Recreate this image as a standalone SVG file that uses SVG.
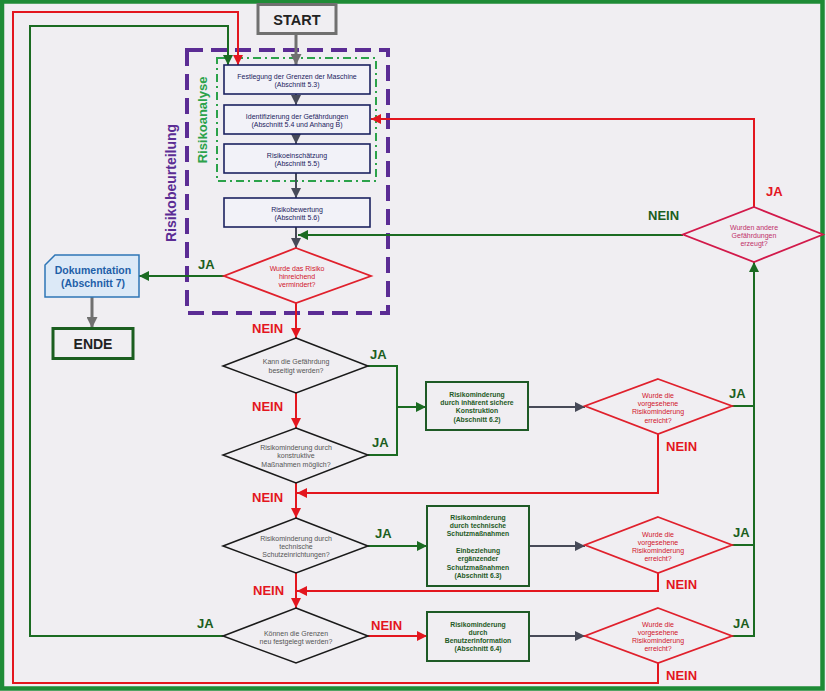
<svg xmlns="http://www.w3.org/2000/svg" width="826" height="691" viewBox="0 0 826 691">
<style>
text{font-family:"Liberation Sans",Arial,sans-serif;}
.lbl{font-size:13px;font-weight:bold;}
.g{fill:#1b5e20;}
.r{fill:#e3161e;}
.bt{font-size:7px;fill:#1c2260;text-anchor:middle;}
.gt{font-size:6.8px;font-weight:bold;fill:#1e5a26;text-anchor:middle;}
.dt{font-size:7px;fill:#555;text-anchor:middle;}
.rt{font-size:7px;fill:#d0142c;text-anchor:middle;}
.nb{fill:#f2f2f8;stroke:#1c2260;stroke-width:1.6;}
.gb{fill:#f0eef2;stroke:#1e5a26;stroke-width:2;}
.bd{fill:#f0eef2;stroke:#1a1a1a;stroke-width:1.5;}
.rd{fill:#f0eef2;stroke:#e0202c;stroke-width:1.8;}
.cr{fill:none;stroke:#e3161e;stroke-width:2;}
.cg{fill:none;stroke:#1b6b22;stroke-width:2;}
.ck{fill:none;stroke:#474a58;stroke-width:2;}
.cy{fill:none;stroke:#707070;stroke-width:3;}
</style>
<defs>
<marker id="mr" viewBox="0 0 10 10" refX="10" refY="5" markerWidth="10" markerHeight="10" markerUnits="userSpaceOnUse" orient="auto"><path d="M0,0 L10,5 L0,10 z" fill="#e3161e"/></marker>
<marker id="mg" viewBox="0 0 10 10" refX="10" refY="5" markerWidth="10" markerHeight="10" markerUnits="userSpaceOnUse" orient="auto"><path d="M0,0 L10,5 L0,10 z" fill="#1b6b22"/></marker>
<marker id="mk" viewBox="0 0 10 10" refX="10" refY="5" markerWidth="10" markerHeight="10" markerUnits="userSpaceOnUse" orient="auto"><path d="M0,0 L10,5 L0,10 z" fill="#474a58"/></marker>
<marker id="my" viewBox="0 0 10 10" refX="10" refY="5" markerWidth="11" markerHeight="11" markerUnits="userSpaceOnUse" orient="auto"><path d="M0,0 L10,5 L0,10 z" fill="#707070"/></marker>
</defs>
<rect x="0" y="0" width="826" height="691" fill="#f0eef2"/>
<rect x="2" y="1.5" width="820.5" height="687" fill="none" stroke="#1e8b36" stroke-width="4.5"/>

<!-- grouping frames -->
<g id="risikobeurteilung">
<rect x="187" y="50" width="201" height="263" fill="none" stroke="#5b2c94" stroke-width="4" stroke-dasharray="16 8"/>
<text transform="translate(176,183) rotate(-90)" text-anchor="middle" font-size="14" font-weight="bold" fill="#5b2c94">Risikobeurteilung</text>
</g>
<g id="risikoanalyse">
<rect x="217" y="58" width="159" height="123" fill="none" stroke="#2ca24a" stroke-width="2" stroke-dasharray="8 4 2 4"/>
<text transform="translate(207,120) rotate(-90)" text-anchor="middle" font-size="13" font-weight="bold" fill="#2ca24a">Risikoanalyse</text>
</g>

<g id="connectors">
<path class="cy" d="M296,34 V65" marker-end="url(#my)"/>
<path class="ck" d="M296,94 V105" marker-end="url(#mk)"/>
<path class="ck" d="M296,134 V144" marker-end="url(#mk)"/>
<path class="ck" d="M296,173 V198" marker-end="url(#mk)"/>
<path class="ck" d="M296,227 V248" marker-end="url(#mk)"/>
<path class="cg" d="M224,276 H139" marker-end="url(#mg)"/>
<path class="cy" d="M92,297 V328" marker-end="url(#my)"/>
<path class="cr" d="M296,303 V338" marker-end="url(#mr)"/>
<path class="cg" d="M368,366 H397 V455 H368"/>
<path class="cg" d="M397,407 H426" marker-end="url(#mg)"/>
<path class="cr" d="M296,393 V428" marker-end="url(#mr)"/>
<path class="ck" d="M528,407 H585" marker-end="url(#mk)"/>
<path class="cg" d="M732,406 H754"/>
<path class="cr" d="M658,434 V493 H297" marker-end="url(#mr)"/>
<path class="cr" d="M296,483 V518" marker-end="url(#mr)"/>
<path class="cg" d="M368,546 H427" marker-end="url(#mg)"/>
<path class="ck" d="M529,546 H585" marker-end="url(#mk)"/>
<path class="cg" d="M732,545 H754"/>
<path class="cr" d="M658,573 V591 H297" marker-end="url(#mr)"/>
<path class="cr" d="M296,573 V608" marker-end="url(#mr)"/>
<path class="cr" d="M368,636 H427" marker-end="url(#mr)"/>
<path class="ck" d="M529,636 H585" marker-end="url(#mk)"/>
<path class="cg" d="M732,636 H754 V262" marker-end="url(#mg)"/>
<path class="cr" d="M658,663 V683 H13 V12 H238 V65" marker-end="url(#mr)"/>
<path class="cg" d="M223,636 H30 V26 H228 V65" marker-end="url(#mg)"/>
<path class="cr" d="M754,207 V119 H371" marker-end="url(#mr)"/>
<path class="cg" d="M683,235 H298" marker-end="url(#mg)"/>
</g>

<g id="labels">
<text class="lbl g" x="198" y="269">JA</text>
<text class="lbl g" x="370" y="359">JA</text>
<text class="lbl g" x="372" y="447">JA</text>
<text class="lbl g" x="375" y="538">JA</text>
<text class="lbl g" x="729" y="398">JA</text>
<text class="lbl g" x="733" y="537">JA</text>
<text class="lbl g" x="733" y="628">JA</text>
<text class="lbl g" x="197" y="628">JA</text>
<text class="lbl r" x="766" y="196">JA</text>
<text class="lbl g" x="648" y="220">NEIN</text>
<text class="lbl r" x="252" y="333">NEIN</text>
<text class="lbl r" x="252" y="411">NEIN</text>
<text class="lbl r" x="666" y="451">NEIN</text>
<text class="lbl r" x="252" y="502">NEIN</text>
<text class="lbl r" x="666" y="589">NEIN</text>
<text class="lbl r" x="253" y="595">NEIN</text>
<text class="lbl r" x="371" y="630">NEIN</text>
<text class="lbl r" x="666" y="680">NEIN</text>
</g>

<g id="start">
<rect x="258" y="4.5" width="78" height="29" fill="#f0eef2" stroke="#707070" stroke-width="3"/>
<text x="297" y="25" text-anchor="middle" font-size="14.5" font-weight="bold" fill="#222">START</text>
</g>
<g id="festlegung">
<rect class="nb" x="224" y="65" width="146" height="29"/>
<text class="bt" x="297" y="78.5">Festlegung der Grenzen der Maschine</text>
<text class="bt" x="297" y="87">(Abschnitt 5.3)</text>
</g>
<g id="identifizierung">
<rect class="nb" x="224" y="105" width="146" height="29"/>
<text class="bt" x="297" y="118.5">Identifizierung der Gefährdungen</text>
<text class="bt" x="297" y="127">(Abschnitt 5.4 und Anhang B)</text>
</g>
<g id="einschaetzung">
<rect class="nb" x="224" y="144" width="146" height="29"/>
<text class="bt" x="297" y="157.5">Risikoeinschätzung</text>
<text class="bt" x="297" y="166">(Abschnitt 5.5)</text>
</g>
<g id="bewertung">
<rect class="nb" x="224" y="198" width="146" height="29"/>
<text class="bt" x="297" y="211.5">Risikobewertung</text>
<text class="bt" x="297" y="220">(Abschnitt 5.6)</text>
</g>
<g id="d-vermindert">
<polygon class="rd" points="296,248 371,276 296,303 224,276"/>
<text class="rt" x="297" y="270.5">Wurde das Risiko</text>
<text class="rt" x="297" y="278.5">hinreichend</text>
<text class="rt" x="297" y="286.5">vermindert?</text>
</g>
<g id="dokumentation">
<path d="M55,255 H139 V297 H45 V265 Z" fill="#dce9f7" stroke="#2e75b6" stroke-width="1.5"/>
<text x="93" y="274" text-anchor="middle" font-size="10.5" font-weight="bold" fill="#1f5fa8">Dokumentation</text>
<text x="93" y="287" text-anchor="middle" font-size="10.5" font-weight="bold" fill="#1f5fa8">(Abschnitt 7)</text>
</g>
<g id="ende">
<rect x="53" y="328.5" width="80" height="30" fill="#f0eef2" stroke="#1b5e20" stroke-width="3"/>
<text x="93" y="349" text-anchor="middle" font-size="14" font-weight="bold" fill="#222">ENDE</text>
</g>
<g id="d-andere">
<polygon points="754,207 823,234.5 754,262 683,234.5" fill="#f0eef2" stroke="#d2194a" stroke-width="1.8"/>
<text class="rt" x="754" y="229.5" style="fill:#c0306a">Wurden andere</text>
<text class="rt" x="754" y="237.5" style="fill:#c0306a">Gefährdungen</text>
<text class="rt" x="754" y="245.5" style="fill:#c0306a">erzeugt?</text>
</g>
<g id="d-beseitigt">
<polygon class="bd" points="296,338 368,366 296,393 223,366"/>
<text class="dt" x="296" y="364">Kann die Gefährdung</text>
<text class="dt" x="296" y="372.5">beseitigt werden?</text>
</g>
<g id="d-konstruktiv">
<polygon class="bd" points="296,428 368,455 296,483 223,455"/>
<text class="dt" x="296" y="449.5">Risikominderung durch</text>
<text class="dt" x="296" y="458">konstruktive</text>
<text class="dt" x="296" y="466.5">Maßnahmen möglich?</text>
</g>
<g id="b-inhaerent">
<rect class="gb" x="426" y="382" width="102" height="48"/>
<text class="gt" x="477" y="396.5">Risikominderung</text>
<text class="gt" x="477" y="404.5">durch inhärent sichere</text>
<text class="gt" x="477" y="413">Konstruktion</text>
<text class="gt" x="477" y="421.5">(Abschnitt 6.2)</text>
</g>
<g id="d-erreicht1">
<polygon class="rd" points="658,379 732,406 658,434 585,406"/>
<text class="rt" x="658" y="397.5">Wurde die</text>
<text class="rt" x="658" y="405.5">vorgesehene</text>
<text class="rt" x="658" y="414">Risikominderung</text>
<text class="rt" x="658" y="422.5">erreicht?</text>
</g>
<g id="d-technisch">
<polygon class="bd" points="296,518 368,546 296,573 223,546"/>
<text class="dt" x="296" y="540.5">Risikominderung durch</text>
<text class="dt" x="296" y="548.5">technische</text>
<text class="dt" x="296" y="556.5">Schutzeinrichtungen?</text>
</g>
<g id="b-technisch">
<rect class="gb" x="427" y="506" width="102" height="80"/>
<text class="gt" x="478" y="519.5">Risikominderung</text>
<text class="gt" x="478" y="527.5">durch technische</text>
<text class="gt" x="478" y="536">Schutzmaßnahmen</text>
<text class="gt" x="478" y="552.5">Einbeziehung</text>
<text class="gt" x="478" y="561">ergänzender</text>
<text class="gt" x="478" y="569.5">Schutzmaßnahmen</text>
<text class="gt" x="478" y="578">(Abschnitt 6.3)</text>
</g>
<g id="d-erreicht2">
<polygon class="rd" points="658,517 732,545 658,573 585,545"/>
<text class="rt" x="658" y="536.5">Wurde die</text>
<text class="rt" x="658" y="544.5">vorgesehene</text>
<text class="rt" x="658" y="552.5">Risikominderung</text>
<text class="rt" x="658" y="560.5">erreicht?</text>
</g>
<g id="d-grenzen">
<polygon class="bd" points="296,608 368,636 296,663 223,636"/>
<text class="dt" x="296" y="635.5">Können die Grenzen</text>
<text class="dt" x="296" y="643.5">neu festgelegt werden?</text>
</g>
<g id="b-benutzer">
<rect class="gb" x="427" y="612" width="102" height="49"/>
<text class="gt" x="478" y="626.5">Risikominderung</text>
<text class="gt" x="478" y="634.5">durch</text>
<text class="gt" x="478" y="642.5">Benutzerinformation</text>
<text class="gt" x="478" y="650.5">(Abschnitt 6.4)</text>
</g>
<g id="d-erreicht3">
<polygon class="rd" points="658,608 732,636 658,663 585,636"/>
<text class="rt" x="658" y="626.5">Wurde die</text>
<text class="rt" x="658" y="634.5">vorgesehene</text>
<text class="rt" x="658" y="643">Risikominderung</text>
<text class="rt" x="658" y="651">erreicht?</text>
</g>
</svg>
